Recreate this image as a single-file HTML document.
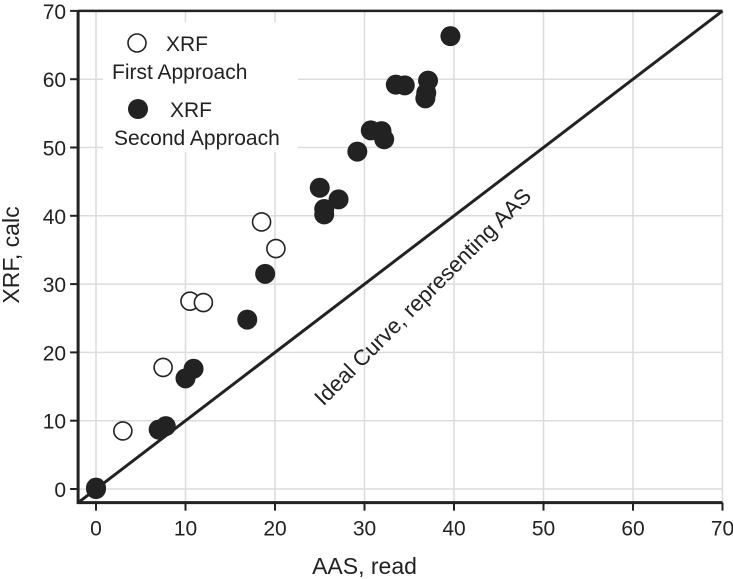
<!DOCTYPE html>
<html><head><meta charset="utf-8"><style>body{margin:0;background:#fff}svg{display:block;font-family:"Liberation Sans",Arial,sans-serif}</style></head>
<body>
<svg id="chart" width="733" height="579" viewBox="0 0 733 579" xmlns="http://www.w3.org/2000/svg"></svg>
<script>
const ticks=[0,10,20,30,40,50,60,70];
const openX=[3,7.5,10.5,12,18.5,20.1];
const openY=[8.5,17.8,27.5,27.3,39.1,35.2];
const fillX=[0,0,7,7.8,10,10.9,16.9,18.9,25,25.5,25.5,27.1,29.2,30.7,31.9,32.2,33.5,34.5,36.8,36.9,37.1,39.6];
const fillY=[0,0.2,8.7,9.2,16.2,17.6,24.8,31.5,44.1,41,40.2,42.4,49.4,52.5,52.4,51.2,59.2,59.1,57.2,58,59.8,66.3];
const NS='http://www.w3.org/2000/svg';
const svgEl=document.getElementById('chart');
const X=v=>96+v*8.95, Y=v=>489-v*6.83;
function mk(t,a){const e=document.createElementNS(NS,t);for(const k in a)e.setAttribute(k,a[k]);svgEl.appendChild(e);return e;}
ticks.forEach(t=>{
 const g=mk('line',{x1:X(t),x2:X(t),y1:Y(70),y2:Y(-2),stroke:'#dcdcdc','stroke-width':1.5});
 
 const h=mk('line',{x1:X(-2),x2:X(70),y1:Y(t),y2:Y(t),stroke:'#dcdcdc','stroke-width':1.5});
 
});
const lb=mk('rect',{x:103,y:22,width:195,height:130,fill:'#fff'});

const axesEl=mk('path',{d:`M${X(-2)} ${Y(70)} V${Y(-2)} H${X(70)}`,fill:'none',stroke:'#222','stroke-width':3});

const topBorder=mk('line',{x1:X(-2),x2:X(70),y1:Y(70),y2:Y(70),stroke:'#222','stroke-width':2.5});

ticks.forEach(t=>{
 const a=mk('line',{x1:X(t),x2:X(t),y1:Y(-2),y2:Y(-2)+8,stroke:'#222','stroke-width':2});
 
 const b=mk('line',{x1:X(-2)-8,x2:X(-2),y1:Y(t),y2:Y(t),stroke:'#222','stroke-width':2});
 
 const tx=mk('text',{x:X(t),y:Y(-2)+33,'text-anchor':'middle','font-size':21,fill:'#222'});tx.textContent=t;
 
 const ty=mk('text',{x:X(-2)-12,y:Y(t)+8,'text-anchor':'end','font-size':21,fill:'#222'});ty.textContent=t;
 
});
const diag=mk('line',{x1:X(-2),y1:Y(-2),x2:X(70),y2:Y(70),stroke:'#222','stroke-width':3});

const dl=mk('text',{x:0,y:0,'font-size':22,fill:'#222','text-anchor':'middle',transform:'translate(428,302) rotate(-45)'});
dl.textContent='Ideal Curve, representing AAS';

openX.forEach((x,i)=>{const c=mk('circle',{cx:X(x),cy:Y(openY[i]),r:9,fill:'#fff',stroke:'#222','stroke-width':1.6});
 });
fillX.forEach((x,i)=>{const c=mk('circle',{cx:X(x),cy:Y(fillY[i]),r:10,fill:'#222'});
 });
const l1=mk('circle',{cx:137,cy:43,r:9,fill:'#fff',stroke:'#222','stroke-width':1.6});

const l2=mk('circle',{cx:138,cy:109,r:10,fill:'#222'});

[['XRF',166,51,'legend-first-title'],['First Approach',112,79,'legend-first-label'],['XRF',170,117,'legend-second-title'],['Second Approach',114,145,'legend-second-label']].forEach(a=>{
 const t=mk('text',{x:a[1],y:a[2],'font-size':21,fill:'#222'});t.textContent=a[0];
 });
const xt=mk('text',{x:X(30),y:574,'text-anchor':'middle','font-size':23,fill:'#222'});xt.textContent='AAS, read';

const yt=mk('text',{x:0,y:0,'text-anchor':'middle','font-size':23,fill:'#222',transform:'translate(19,255) rotate(-90)'});yt.textContent='XRF, calc';

</script>
</body></html>
